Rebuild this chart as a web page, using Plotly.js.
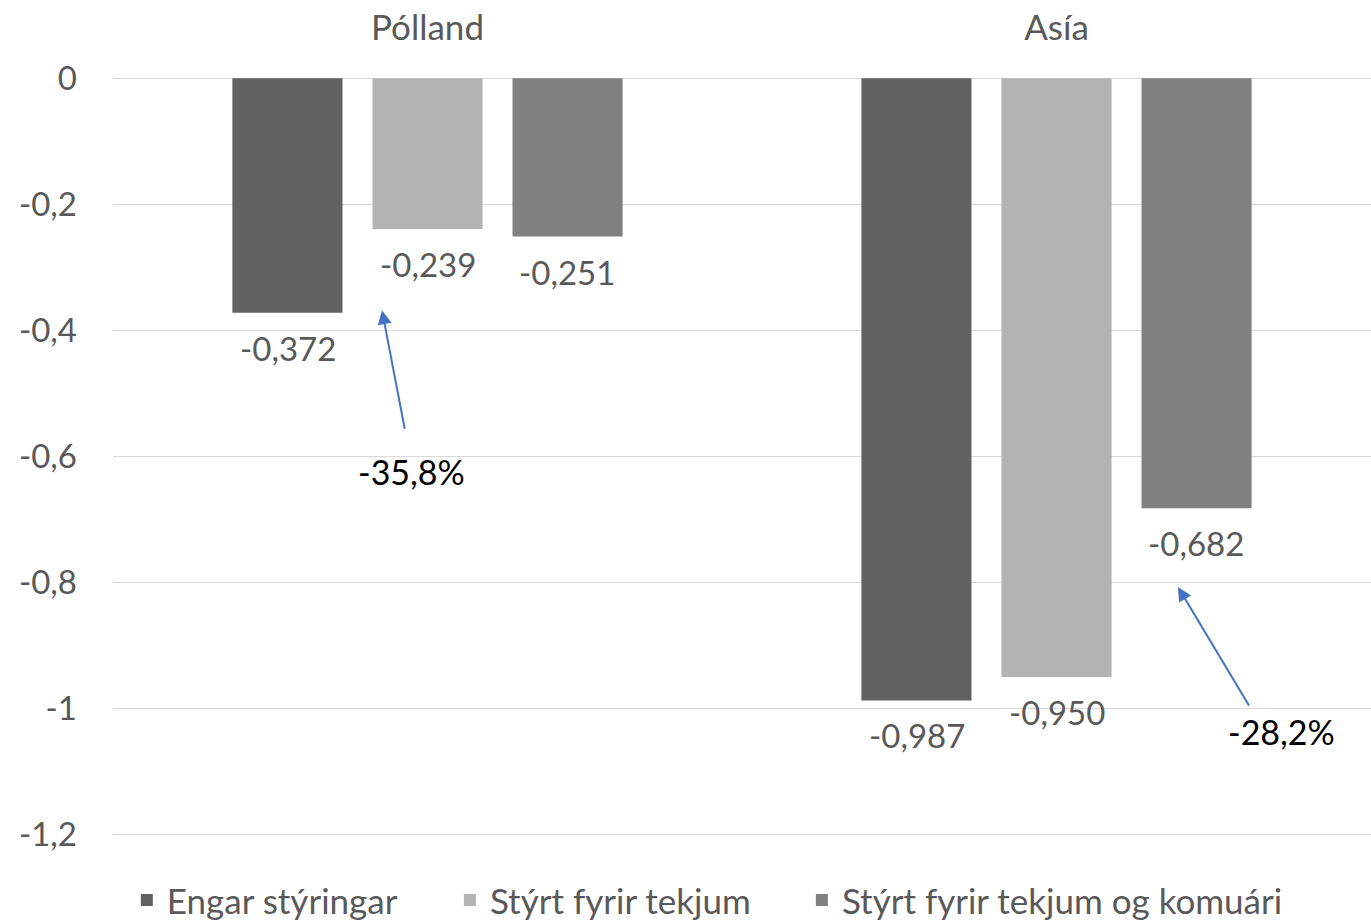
<!DOCTYPE html>
<html>
<head>
<meta charset="utf-8">
<script src="https://cdn.plot.ly/plotly-3.0.1.min.js"></script>
<style>html,body{margin:0;padding:0;background:#fff;}#chart{width:1371px;height:922px;}</style>
</head>
<body>
<div id="chart"></div>
<script>
const categories = ['Pólland', 'Asía'];
const seriesNames = ['Engar stýringar', 'Stýrt fyrir tekjum', 'Stýrt fyrir tekjum og komuári'];
const engar = [-0.372, -0.987];
const tekjum = [-0.239, -0.950];
const tekjumKomuari = [-0.251, -0.682];
const changeLabels = ['-35,8%', '-28,2%'];
const yTickVals = [0, -0.2, -0.4, -0.6, -0.8, -1, -1.2];
const yTickText = ['0', '-0,2', '-0,4', '-0,6', '-0,8', '-1', '-1,2'];

const colors = ['#626262', '#b3b3b3', '#808080'];
const allSeries = [engar, tekjum, tekjumKomuari];
const FONT = 'Lato, "Open Sans", sans-serif';
const TXT = '#595959';
const legendIds = ['legend', 'legend2', 'legend3'];
const legendX = [0.011, 0.2678, 0.5476];

const traces = allSeries.map((vals, i) => ({
  type: 'bar',
  name: seriesNames[i],
  x: categories,
  y: vals,
  legend: legendIds[i],
  marker: {color: colors[i]},
  hoverinfo: 'skip'
}));

const fmt = v => v.toFixed(3).replace('.', ',').replace('\u2212', '-');
const offsets = [-0.222, 0, 0.222];
const annotations = [];
allSeries.forEach((vals, i) => {
  vals.forEach((v, j) => {
    annotations.push({
      x: j + offsets[i], y: v, xref: 'x', yref: 'y',
      text: fmt(v), showarrow: false, yanchor: 'top', yshift: -13,
      font: {family: FONT, size: 33, color: TXT}
    });
  });
});
// arrows: from change label toward the controlled bar label
annotations.push({x: -0.0723, y: tekjum[0] - 0.129, xref: 'x', yref: 'y', text: '', showarrow: true,
  ax: 23, ay: 120, arrowcolor: '#4472C4', arrowwidth: 2, arrowhead: 2, arrowsize: 1.4});
annotations.push({x: 1.193, y: tekjumKomuari[1] - 0.125, xref: 'x', yref: 'y', text: '', showarrow: true,
  ax: 72, ay: 120, arrowcolor: '#4472C4', arrowwidth: 2, arrowhead: 2, arrowsize: 1.4});
annotations.push({x: -0.025, y: -0.624, xref: 'x', yref: 'y', text: changeLabels[0], showarrow: false,
  font: {family: FONT, size: 34, color: '#000'}});
annotations.push({x: 1.357, y: -1.036, xref: 'x', yref: 'y', text: changeLabels[1], showarrow: false,
  font: {family: FONT, size: 34, color: '#000'}});

const layout = {
  width: 1371, height: 922,
  margin: {l: 113, r: 0, t: 72, b: 81, autoexpand: false},
  paper_bgcolor: '#fff', plot_bgcolor: '#fff',
  font: {family: FONT, size: 33, color: TXT},
  separators: ', ',
  barmode: 'group',
  bargap: 0.332,
  bargroupgap: 0.214,
  showlegend: true,
  xaxis: {side: 'top', type: 'category', showgrid: false, zeroline: false, showline: false,
    ticks: '', ticklabelstandoff: 24, tickfont: {family: FONT, size: 35, color: TXT}},
  yaxis: {range: [-1.21, 0.01], tickvals: yTickVals, ticktext: yTickText,
    showgrid: true, gridcolor: '#d9d9d9', gridwidth: 1.5, zeroline: false, showline: false,
    ticks: '', ticklabelstandoff: 35, tickfont: {family: FONT, size: 33, color: TXT}},
  annotations: annotations
};
legendIds.forEach((id, i) => {
  layout[id] = {orientation: 'h', x: legendX[i], xanchor: 'left', y: -0.077, yanchor: 'middle',
    bgcolor: 'rgba(0,0,0,0)', font: {family: FONT, size: 35, color: TXT}};
});

Plotly.newPlot('chart', traces, layout, {staticPlot: true, displayModeBar: false});
</script>
</body>
</html>
